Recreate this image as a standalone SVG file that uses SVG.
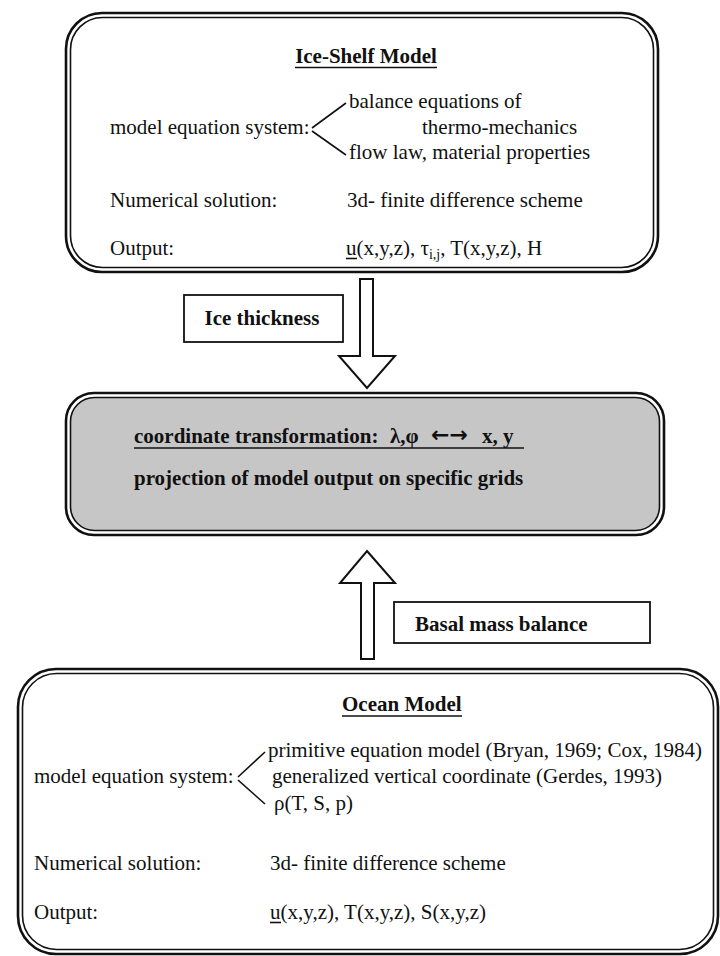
<svg xmlns="http://www.w3.org/2000/svg" width="720" height="956" viewBox="0 0 720 956">
<style>
.t{font-family:"Liberation Serif","Times New Roman",serif;font-size:21px;fill:#111}
.b{font-weight:bold}
.o{fill:#fff;stroke:#111;stroke-width:2.6}
.i{fill:none;stroke:#111;stroke-width:1.6}
.g{fill:#c6c6c6;stroke:#111;stroke-width:1.6}
.ln{stroke:#111;stroke-width:1.6;fill:none}
.ar{fill:#fff;stroke:#111;stroke-width:2}
.lb{fill:#fff;stroke:#111;stroke-width:1.8}
.sym{font-family:"DejaVu Sans",sans-serif;font-size:22px;font-weight:bold;fill:#111}
</style>
<rect width="720" height="956" fill="#fff"/>

<g id="ice-shelf-model">
<rect class="o" x="66" y="13" width="592" height="259" rx="36"/>
<rect class="i" x="70.5" y="17.5" width="583" height="250" rx="32"/>
<text class="t b" x="366" y="63" text-anchor="middle">Ice-Shelf Model</text>
<line class="ln" x1="295" y1="67.5" x2="437" y2="67.5"/>
<text class="t" x="349" y="108">balance equations of</text>
<text class="t" x="110" y="134">model equation system:</text>
<text class="t" x="422" y="134">thermo-mechanics</text>
<text class="t" x="349" y="159">flow law, material properties</text>
<line class="ln" x1="312" y1="128" x2="346" y2="103"/>
<line class="ln" x1="312" y1="131" x2="346" y2="155"/>
<text class="t" x="110" y="207">Numerical solution:</text>
<text class="t" x="347" y="207">3d- finite difference scheme</text>
<text class="t" x="110" y="255">Output:</text>
<text class="t" x="346" y="255">u(x,y,z), τ<tspan font-size="14" dy="4">i,j</tspan><tspan dy="-4">, T(x,y,z), H</tspan></text>
<line class="ln" x1="346" y1="258.5" x2="357" y2="258.5"/>
</g>

<g id="connectors">
<polygon class="ar" points="360,279 373,279 373,356 395,356 367,388 339,356 360,356"/>
<polygon class="ar" points="367,551 395,583 374,583 374,659 361,659 361,583 340,583"/>
</g>

<g id="label-ice-thickness">
<rect class="lb" x="184" y="295" width="159" height="47"/>
<text class="t b" x="262" y="325" text-anchor="middle">Ice thickness</text>
</g>

<g id="coordinate-transformation">
<rect class="o" x="66" y="393" width="598" height="142" rx="28"/>
<rect class="g" x="70.5" y="397.5" width="589" height="133" rx="24"/>
<text class="t b" x="134" y="443">coordinate transformation:<tspan x="390">λ,φ</tspan><tspan x="482">x, y</tspan></text>
<text class="sym" x="431" y="442">←→</text>
<line class="ln" x1="134" y1="448" x2="524" y2="448"/>
<text class="t b" x="134" y="485">projection of model output on specific grids</text>
</g>

<g id="label-basal-mass-balance">
<rect class="lb" x="394" y="602" width="256" height="41"/>
<text class="t b" x="415" y="631">Basal mass balance</text>
</g>

<g id="ocean-model">
<rect class="o" x="18" y="669" width="700" height="285" rx="38"/>
<rect class="i" x="22.5" y="673.5" width="691" height="276" rx="34"/>
<text class="t b" x="342" y="711">Ocean Model</text>
<line class="ln" x1="342" y1="716" x2="462" y2="716"/>
<text class="t" x="268" y="757">primitive equation model (Bryan, 1969; Cox, 1984)</text>
<text class="t" x="34" y="783">model equation system:</text>
<text class="t" x="272" y="783">generalized vertical coordinate (Gerdes, 1993)</text>
<text class="t" x="274" y="810">ρ(T, S, p)</text>
<line class="ln" x1="238" y1="777" x2="265" y2="752"/>
<line class="ln" x1="238" y1="780" x2="265" y2="804"/>
<text class="t" x="34" y="870">Numerical solution:</text>
<text class="t" x="270" y="870">3d- finite difference scheme</text>
<text class="t" x="34" y="919">Output:</text>
<text class="t" x="270" y="919">u(x,y,z), T(x,y,z), S(x,y,z)</text>
<line class="ln" x1="270" y1="922.5" x2="281" y2="922.5"/>
</g>
</svg>
